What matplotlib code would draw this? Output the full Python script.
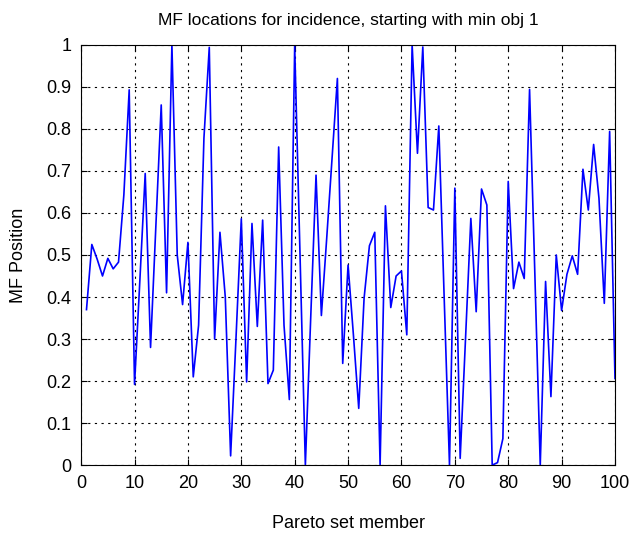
import matplotlib
matplotlib.use('Agg')
from matplotlib import pyplot as plt
from matplotlib.ticker import FuncFormatter

plt.rcParams['font.family'] = ['Liberation Sans', 'DejaVu Sans']

# Pareto set member index 1..100
members = list(range(1, 101))
mf_pos = [
    0.37, 0.525, 0.49, 0.45, 0.492, 0.467, 0.483, 0.643, 0.893, 0.192,
    0.44, 0.694, 0.28, 0.57, 0.857, 0.41, 1.0, 0.5, 0.382, 0.53,
    0.21, 0.333, 0.778, 0.994, 0.3, 0.554, 0.40, 0.022, 0.30, 0.586,
    0.198, 0.575, 0.33, 0.583, 0.194, 0.226, 0.757, 0.333, 0.156, 0.998,
    0.5, 0.0, 0.35, 0.69, 0.356, 0.54, 0.73, 0.92, 0.242, 0.476,
    0.31, 0.135, 0.397, 0.522, 0.554, 0.0, 0.617, 0.375, 0.45, 0.462,
    0.31, 1.0, 0.742, 0.995, 0.613, 0.607, 0.807, 0.40, 0.0, 0.659,
    0.016, 0.30, 0.587, 0.365, 0.657, 0.619, 0.0, 0.006, 0.063, 0.675,
    0.42, 0.483, 0.444, 0.894, 0.45, 0.0, 0.437, 0.163, 0.5, 0.368,
    0.454, 0.498, 0.454, 0.704, 0.607, 0.763, 0.635, 0.385, 0.794, 0.206,
]

fig = plt.figure(figsize=(6.34, 5.34), dpi=100)
ax = fig.add_axes([0.128, 0.129, 0.842, 0.787])
ax.plot(members, mf_pos, color='#0000ff', linewidth=1.2)

ax.set_xlim(0, 100)
ax.set_ylim(0, 1)
ax.set_xticks(range(0, 101, 10))
ax.set_yticks([i / 10 for i in range(11)])
ax.yaxis.set_major_formatter(FuncFormatter(lambda v, p: ('%g' % round(v, 1))))
ax.tick_params(direction='in', top=True, right=True, labelsize=13, length=4, pad=7)
ax.grid(True, color='black', linestyle=(0, (2, 4)), linewidth=0.8)

ax.set_title('MF locations for incidence, starting with min obj 1', fontsize=12.5, pad=14)
ax.set_xlabel('Pareto set member', fontsize=13, labelpad=17)
ax.set_ylabel('MF Position', fontsize=13, labelpad=14)

plt.savefig('out.png', dpi=100)
plt.close()
